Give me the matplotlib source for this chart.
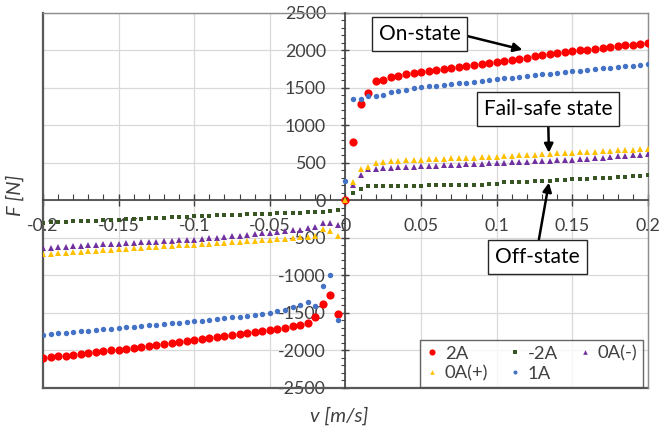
import numpy as np
import matplotlib
matplotlib.use("Agg")
import matplotlib.pyplot as plt
from matplotlib.ticker import MultipleLocator, FuncFormatter

plt.rcParams['font.family'] = ['Lato', 'DejaVu Sans']

# Velocity grid (m/s): -0.2 ... 0.2 in 0.005 steps
v = np.linspace(-0.2, 0.2, 81)

# Damper force F [N] for each current setting, ordered by velocity
f_2A = [
    -2100, -2090, -2080, -2068, -2058, -2045, -2035, -2022, -2012, -2000,
    -1990, -1978, -1965, -1952, -1940, -1927, -1914, -1900, -1888, -1874,
    -1860, -1847, -1834, -1820, -1807, -1793, -1780, -1766, -1752, -1738,
    -1725, -1710, -1694, -1676, -1655, -1628, -1560, -1380, -1265, -1510,
    0,
    775, 1285, 1430, 1590, 1612, 1640, 1662, 1680, 1695, 1712,
    1726, 1740, 1753, 1766, 1779, 1792, 1805, 1818, 1832, 1846,
    1860, 1875, 1890, 1905, 1920, 1934, 1948, 1962, 1975, 1988,
    2000, 2012, 2024, 2035, 2046, 2057, 2068, 2079, 2090, 2100,
]

f_m2A = [
    -295, -291, -287, -283, -279, -275, -271, -267, -262, -258,
    -254, -250, -245, -241, -236, -232, -228, -223, -219, -214,
    -210, -206, -203, -199, -196, -192, -189, -185, -181, -178,
    -174, -171, -168, -165, -162, -158, -154, -150, -146, -132,
    0,
    94, 147, 188, 192, 194, 195, 196, 197, 198, 199,
    200, 201, 202, 203, 205, 207, 210, 213, 217, 222,
    240, 243, 246, 250, 254, 259, 265, 270, 275, 280,
    285, 290, 296, 301, 306, 312, 317, 322, 328, 334,
]

f_0A_neg = [
    -633, -627, -621, -615, -610, -604, -598, -592, -586, -580,
    -575, -569, -564, -558, -553, -547, -542, -537, -531, -526,
    -521, -512, -503, -494, -485, -476, -467, -458, -449, -440,
    -432, -422, -412, -400, -388, -372, -355, -305, -298, -330,
    0,
    205, 334, 414, 422, 430, 435, 440, 445, 450, 455,
    459, 464, 468, 473, 478, 482, 487, 491, 496, 500,
    504, 509, 513, 518, 522, 527, 531, 536, 540, 545,
    551, 558, 565, 572, 580, 587, 594, 601, 608, 615,
]

f_0A_pos = [
    -720, -713, -706, -699, -692, -685, -678, -671, -664, -657,
    -650, -644, -638, -632, -626, -619, -613, -607, -600, -594,
    -588, -581, -574, -568, -561, -554, -547, -541, -534, -527,
    -521, -514, -507, -500, -493, -486, -478, -375, -405, -475,
    0,
    245, 415, 445, 495, 510, 522, 530, 536, 541, 545,
    549, 553, 557, 561, 565, 569, 573, 577, 581, 585,
    590, 596, 601, 607, 612, 617, 622, 627, 632, 637,
    642, 647, 652, 657, 662, 667, 673, 678, 684, 690,
]

f_1A = [
    -1790, -1781, -1772, -1763, -1755, -1746, -1737, -1728, -1719, -1710,
    -1702, -1693, -1684, -1675, -1666, -1657, -1648, -1639, -1630, -1622,
    -1613, -1603, -1592, -1581, -1570, -1559, -1548, -1536, -1524, -1512,
    -1500, -1480, -1460, -1425, -1390, -1360, -1405, -1145, -1000, -1600,
    258,
    1350, 1350, 1388, 1398, 1408, 1440, 1455, 1478, 1497, 1510,
    1520, 1530, 1540, 1550, 1562, 1573, 1584, 1594, 1605, 1616,
    1627, 1638, 1649, 1659, 1669, 1680, 1690, 1700, 1710, 1720,
    1730, 1740, 1750, 1760, 1769, 1778, 1787, 1796, 1805, 1814,
]

labels = ["2A", "-2A", "0A(-)", "0A(+)", "1A"]

fig = plt.figure(figsize=(6.59, 4.30), dpi=100)
ax = fig.add_axes([0.0652, 0.0977, 0.9181, 0.8721])

styles = [
    dict(marker='o', color='#FF0000', ms=5.9),
    dict(marker='s', color='#375623', ms=3.5),
    dict(marker='^', color='#7030A0', ms=4.4),
    dict(marker='^', color='#FFC000', ms=4.4),
    dict(marker='o', color='#4472C4', ms=3.9),
]
series = [f_2A, f_m2A, f_0A_neg, f_0A_pos, f_1A]
handles = []
for lab, f, st in zip(labels, series, styles):
    h, = ax.plot(v, f, linestyle='none', marker=st['marker'], ms=st['ms'],
                 color=st['color'], markeredgewidth=0, label=lab, zorder=3)
    handles.append(h)

ax.set_xlim(-0.2, 0.2)
ax.set_ylim(-2500, 2500)

# Axes cross at the origin
ax.spines['left'].set_position(('data', 0))
ax.spines['bottom'].set_position(('data', 0))
for s in ('left', 'bottom'):
    ax.spines[s].set_color('#404040')
    ax.spines[s].set_linewidth(1.2)
    ax.spines[s].set_zorder(2.6)
for s in ('top', 'right'):
    ax.spines[s].set_color('#8C8C8C')
    ax.spines[s].set_linewidth(1.0)
# Outer plot-area frame on the left and bottom
ax.axvline(-0.2, color='#595959', lw=1.6, zorder=2.4, clip_on=False)
ax.axhline(-2500, color='#595959', lw=1.6, zorder=2.4, clip_on=False)

ax.xaxis.set_major_locator(MultipleLocator(0.05))
ax.xaxis.set_minor_locator(MultipleLocator(0.01))
ax.yaxis.set_major_locator(MultipleLocator(500))
ax.yaxis.set_minor_locator(MultipleLocator(100))

ax.xaxis.set_major_formatter(FuncFormatter(lambda x, p: f"{round(x, 3):g}" if abs(x) > 1e-9 else "0"))
ax.yaxis.set_major_formatter(FuncFormatter(lambda y, p: f"{int(round(y))}"))

ax.tick_params(axis='x', which='major', direction='inout', length=9, width=1.0,
               color='#404040', pad=8, labelsize=12.8, labelcolor='#404040')
ax.tick_params(axis='x', which='minor', direction='in', length=4, width=0.8, color='#404040')
ax.tick_params(axis='y', which='major', direction='inout', length=6, width=1.0,
               color='#404040', pad=11, labelsize=12.8, labelcolor='#404040')
ax.tick_params(axis='y', which='minor', direction='out', length=3, width=0.8, color='#404040')

ax.grid(True, which='major', color='#D9D9D9', lw=0.9, zorder=0)
ax.set_axisbelow(True)

fig.text(0.5145, 0.033, "v [m/s]", ha='center', va='center', fontsize=14.5,
         style='italic', color='#404040')
fig.text(0.022, 0.545, "F [N]", ha='center', va='center', fontsize=14.5,
         style='italic', color='#404040', rotation=90)

box = dict(boxstyle='square,pad=0.33', fc='white', ec='#262626', lw=1.0)
arrow = dict(arrowstyle='-|>', color='black', lw=1.8, mutation_scale=13, shrinkA=0, shrinkB=0)

ax.annotate("On-state", xy=(0.117, 2010), xytext=(0.049, 2215), fontsize=15,
            ha='center', va='center', bbox=box, zorder=5,
            arrowprops=dict(arrow, relpos=(1.0, 0.5)))
ax.annotate("Fail-safe state", xy=(0.1345, 636), xytext=(0.134, 1218), fontsize=15,
            ha='center', va='center', bbox=box, zorder=5,
            arrowprops=dict(arrow, relpos=(0.5, 0.0)))
ax.annotate("Off-state", xy=(0.1345, 237), xytext=(0.127, -752), fontsize=15,
            ha='center', va='center', bbox=box, zorder=5,
            arrowprops=dict(arrow, relpos=(0.5, 1.0)))

order = [0, 3, 1, 4, 2]
leg = ax.legend([handles[i] for i in order], [labels[i] for i in order],
                ncol=3, loc='lower right', bbox_to_anchor=(0.992, 0.002),
                borderaxespad=0.0,
                fontsize=13.3, frameon=True, fancybox=False, markerscale=0.75,
                handlelength=0.7, handletextpad=0.35, columnspacing=1.1,
                labelspacing=0.2, borderpad=0.3)
leg.get_frame().set_edgecolor('#404040')
leg.get_frame().set_linewidth(1.0)
leg.set_zorder(6)
for t in leg.get_texts():
    t.set_color('#404040')

fig.savefig("out.png", dpi=100)
